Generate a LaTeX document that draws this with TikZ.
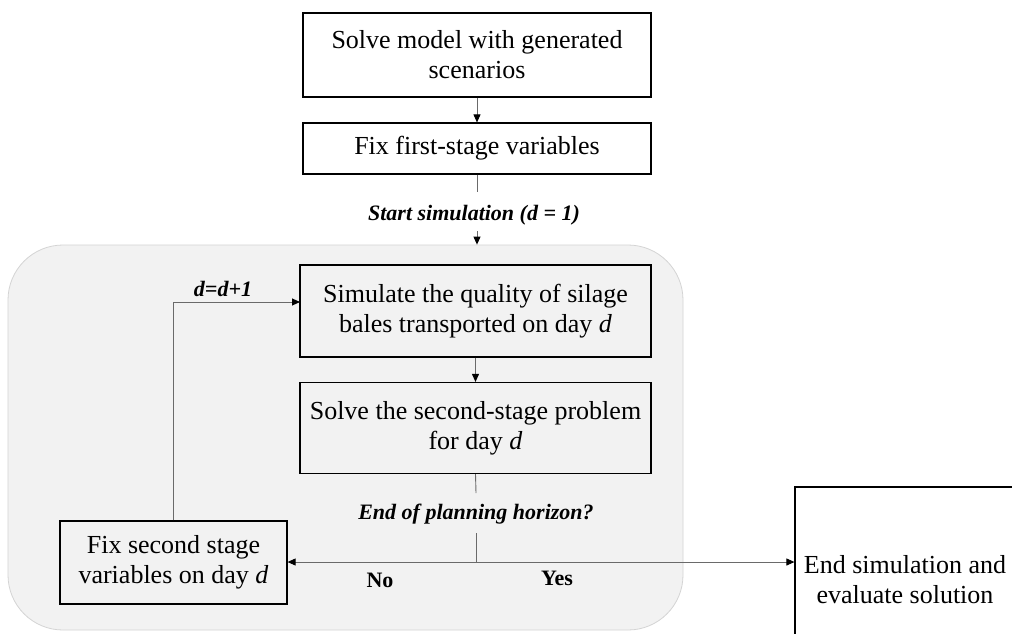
\documentclass[tikz,border=0pt]{standalone}
\usepackage{fontspec}
\setmainfont{Liberation Serif}
\usetikzlibrary{arrows.meta}
\definecolor{panelfill}{HTML}{F2F2F2}
\definecolor{panelline}{HTML}{D4D4D4}
\definecolor{linkgray}{HTML}{6A6A6A}
\tikzset{
  stepbox/.style={draw=black, line width=1.2pt, align=center, inner sep=0pt,
    font=\fontsize{26}{30}\selectfont},
  conn/.style={draw=linkgray, line width=0.9pt},
  arr/.style={conn, -{Triangle[length=8pt,width=7pt,fill=black,color=black]}},
  cond/.style={font=\fontsize{22}{26}\selectfont\bfseries\itshape},
  answer/.style={font=\fontsize{22}{26}\selectfont\bfseries},
}
\begin{document}
\begin{tikzpicture}[x=1pt,y=-1pt]
  \clip (0,0) rectangle (1012,633);
  \fill[white] (0,0) rectangle (1012,633);

  % simulation loop panel
  \node[draw=panelline, fill=panelfill, line width=0.8pt, rounded corners=55pt,
        minimum width=675pt, minimum height=385pt, inner sep=0pt]
        (sim) at (345.5,437.5) {};

  % process steps
  \node[stepbox, minimum width=348pt, minimum height=84pt] (solve) at (477,55)
    {Solve model with generated\\scenarios};
  \node[stepbox, minimum width=348pt, minimum height=51pt] (fixfirst) at (477,148.5)
    {Fix first-stage variables};
  \node[stepbox, minimum width=351pt, minimum height=92pt] (quality) at (475.5,311)
    {Simulate the quality of silage\\bales transported on day \textit{d}};
  \node[stepbox, minimum width=351pt, minimum height=91pt] (second) at (475.5,428)
    {Solve the second-stage problem\\for day \textit{d}};
  \node[stepbox, minimum width=227pt, minimum height=83pt] (fixsecond) at (173.5,562.5)
    {Fix second stage\\variables on day \textit{d}};
  \node[stepbox, minimum width=220pt, minimum height=186pt] (finish) at (905,580)
    {End simulation and\\evaluate solution};

  % labels
  \node[cond] (start) at (474,215) {Start simulation (d = 1)};
  \node[cond] (horizon) at (476,514) {End of planning horizon?};
  \node[cond] (incr) at (223,289) {d=d+1};
  \node[answer] (no) at (380,580) {No};
  \node[answer] (yes) at (557,578) {Yes};

  % helper points
  \coordinate (startin) at (477,192);
  \coordinate (startout) at (477,231);
  \coordinate (horin) at (476,493);
  \coordinate (horout) at (476,533);
  \coordinate (split) at (476,562);
  \coordinate (loopin) at (300,302);

  % connectors
  \draw[arr] (solve.south) -- (fixfirst.north);
  \draw[conn] (fixfirst.south) -- (startin);
  \draw[arr] (startout) -- (startout |- sim.north);
  \draw[arr] (quality.south) -- (second.north);
  \draw[conn] (second.south) -- (horin);
  \draw[conn] (horout) -- (split);
  \draw[arr] (split) -- (fixsecond.east |- split);
  \draw[arr] (split) -- (finish.west |- split);
  \draw[arr] (fixsecond.north) |- (loopin);
\end{tikzpicture}
\end{document}
